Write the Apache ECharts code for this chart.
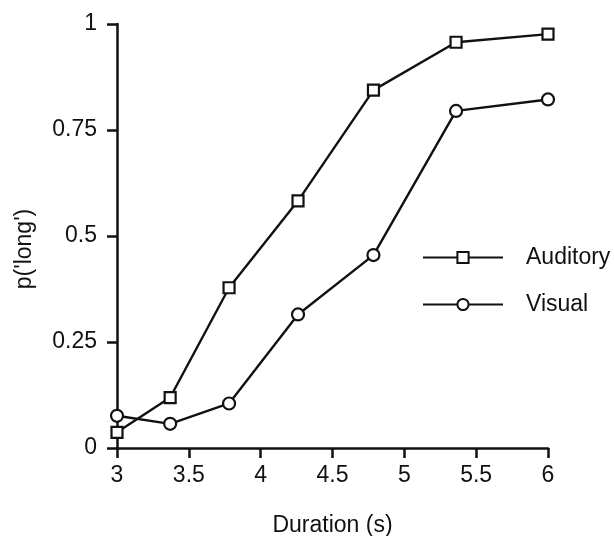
<!DOCTYPE html>
<html>
<head>
<meta charset="utf-8">
<script src="https://cdn.jsdelivr.net/npm/echarts@6/dist/echarts.min.js"></script>
<style>html,body{margin:0;padding:0;background:#fff}#c{width:614px;height:536px}</style>
</head>
<body>
<div id="c"></div>
<script>
const durations = [3.0, 3.37, 3.78, 4.26, 4.785, 5.36, 6.0];
const auditory = [0.037, 0.119, 0.378, 0.583, 0.844, 0.957, 0.976];
const visual = [0.076, 0.057, 0.105, 0.315, 0.455, 0.795, 0.822];
const xTicks = [3, 3.5, 4, 4.5, 5, 5.5, 6];
const yTicks = [0, 0.25, 0.5, 0.75, 1];

const font = '"Liberation Sans", Arial, sans-serif';
const ink = '#111';
const fs = 23;
const chart = echarts.init(document.getElementById('c'), null, {renderer: 'canvas'});
const pair = (xs, ys) => xs.map((x, i) => [x, ys[i]]);
chart.setOption({
  animation: false,
  backgroundColor: '#fff',
  grid: {left: 117, right: 66, top: 24, bottom: 88, containLabel: false, outerBoundsMode: 'none'},
  xAxis: {
    type: 'value', min: 3, max: 6, interval: 0.5,
    name: 'Duration (s)', nameLocation: 'middle', nameGap: 66, nameMoveOverlap: false,
    nameTextStyle: {fontFamily: font, fontSize: fs, color: ink},
    axisLine: {show: true, lineStyle: {color: ink, width: 2.5}},
    axisTick: {show: true, length: 10, lineStyle: {color: ink, width: 2.5}},
    axisLabel: {fontFamily: font, fontSize: fs, color: ink, margin: 16,
      formatter: v => xTicks.includes(v) ? String(v) : ''},
    splitLine: {show: false}
  },
  yAxis: {
    type: 'value', min: 0, max: 1, interval: 0.25,
    name: "p('long')", nameLocation: 'middle', nameGap: 81, nameRotate: 90, nameMoveOverlap: false,
    nameTextStyle: {fontFamily: font, fontSize: fs, color: ink, padding: [0, 26, 0, 0]},
    axisLine: {show: true, lineStyle: {color: ink, width: 2.5}},
    axisTick: {show: true, length: 10, lineStyle: {color: ink, width: 2.5}},
    axisLabel: {fontFamily: font, fontSize: fs, color: ink, margin: 20,
      formatter: v => yTicks.includes(v) ? String(v) : ''},
    splitLine: {show: false}
  },
  legend: {
    orient: 'vertical', left: 417, top: 241,
    itemWidth: 80, itemHeight: 14, itemGap: 24,
    textStyle: {fontFamily: font, fontSize: fs, color: ink, padding: [0, 0, 0, 18]},
    data: ['Auditory', 'Visual']
  },
  series: [
    {
      name: 'Auditory', type: 'line', data: pair(durations, auditory),
      symbol: 'rect', symbolSize: 11, showAllSymbol: true,
      lineStyle: {color: ink, width: 2.4},
      itemStyle: {color: '#fff', borderColor: ink, borderWidth: 2.2},
      z: 3
    },
    {
      name: 'Visual', type: 'line', data: pair(durations, visual),
      symbol: 'circle', symbolSize: 12, showAllSymbol: true,
      lineStyle: {color: ink, width: 2.4},
      itemStyle: {color: '#fff', borderColor: ink, borderWidth: 2.2},
      z: 2
    }
  ]
});
</script>
</body>
</html>
